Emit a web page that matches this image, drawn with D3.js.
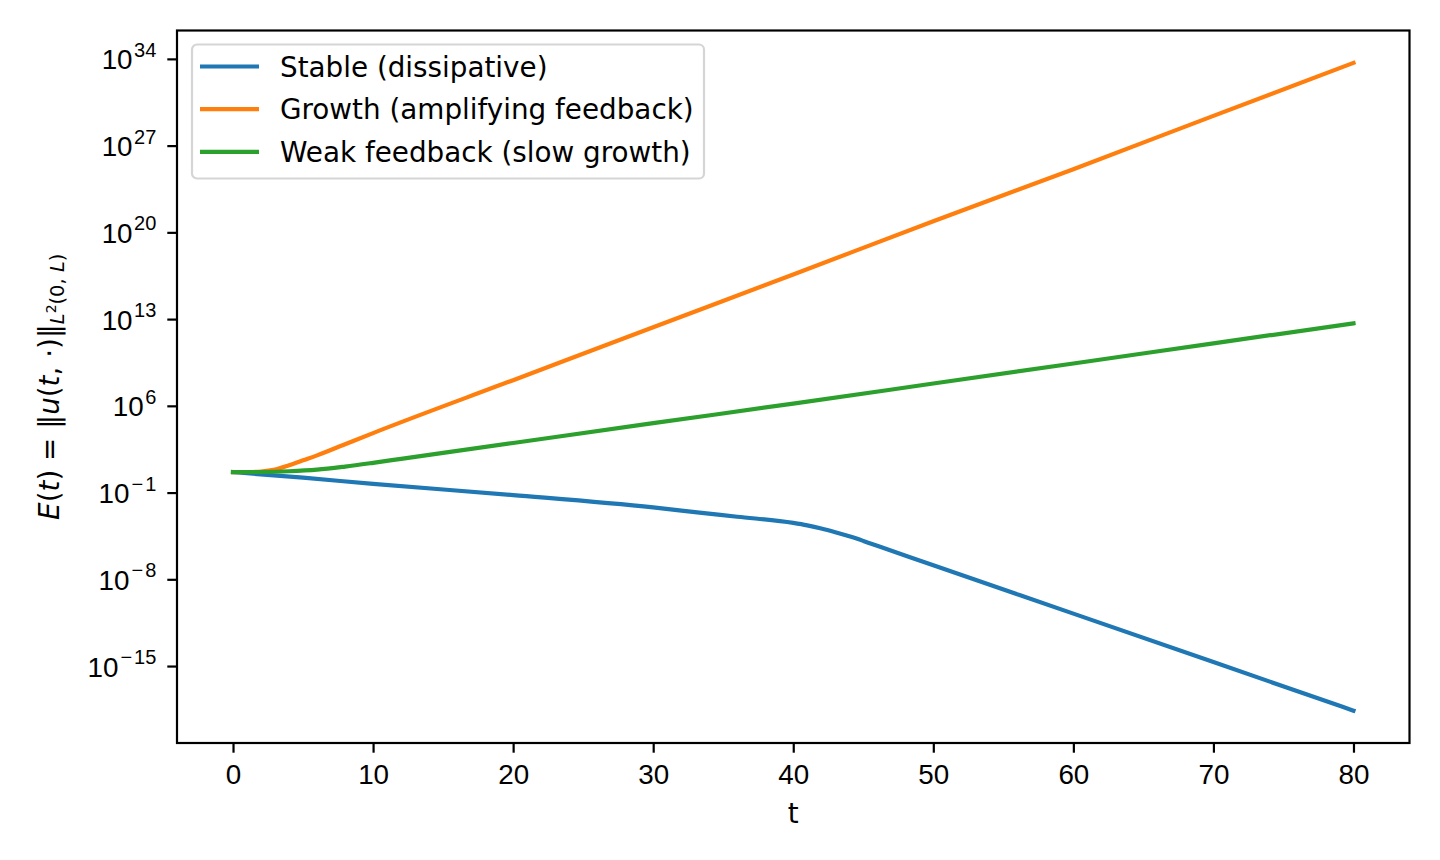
<!DOCTYPE html>
<html>
<head>
<meta charset="utf-8">
<script src="https://cdn.jsdelivr.net/npm/d3@7/dist/d3.min.js"></script>
<style>
  body { margin: 0; background: #fff; }
  svg { font-family: "DejaVu Sans", sans-serif; }
</style>
</head>
<body>
<div id="chart"></div>
<script>
// Data: time t and log10 of E(t) for each series
var stableT = [0, 5, 10, 20, 30, 33.3, 36, 40, 41, 42, 43, 44, 45, 46.2, 50, 60, 70, 80];
var stableLog = [0.65, 0.2, -0.3, -1.2, -2.2, -2.62, -2.95, -3.45, -3.65, -3.9, -4.2, -4.53, -4.9, -5.37, -6.87, -10.77, -14.68, -18.6];

var growthT = [0, 1, 2, 3, 4, 5, 6, 8, 10, 20, 30, 40, 50, 60, 70, 80];
var growthLog = [0.65, 0.66, 0.7, 0.85, 1.2, 1.6, 2.0, 2.9, 3.8, 8.07, 12.34, 16.6, 20.9, 25.1, 29.4, 33.68];

var weakT = [0, 2, 4, 6, 8, 10, 12, 15, 20, 30, 40, 50, 60, 70, 80];
var weakLog = [0.65, 0.66, 0.72, 0.85, 1.1, 1.4, 1.72, 2.2, 3.0, 4.6, 6.18, 7.8, 9.42, 11.04, 12.66];

var seriesNames = ["Stable (dissipative)", "Growth (amplifying feedback)", "Weak feedback (slow growth)"];
var seriesColors = ["#1f77b4", "#ff7f0e", "#2ca02c"];

var xTicks = [0, 10, 20, 30, 40, 50, 60, 70, 80];
var yTickExponents = [-15, -8, -1, 6, 13, 20, 27, 34];

// SVG size and plot area
var svgWidth = 1440;
var svgHeight = 860;
var margin = { top: 30.5, right: 30.5, bottom: 117, left: 177 };
var width = svgWidth - margin.left - margin.right;
var height = svgHeight - margin.top - margin.bottom;

var svg = d3.select("#chart")
  .append("svg")
  .attr("width", svgWidth)
  .attr("height", svgHeight);

var chartGroup = svg.append("g")
  .attr("transform", `translate(${margin.left}, ${margin.top})`);

function toPoints(ts, logs) {
  return ts.map(function(t, i) { return { t: t, e: Math.pow(10, logs[i]) }; });
}
var series = [
  toPoints(stableT, stableLog),
  toPoints(growthT, growthLog),
  toPoints(weakT, weakLog)
];

// Scales (matplotlib style 5% margins)
var xScale = d3.scaleLinear().domain([-4, 84]).range([0, width]);
var yScale = d3.scaleLog()
  .domain([Math.pow(10, -21.21), Math.pow(10, 36.29)])
  .range([height, 0]);

var fs = 27.8;
var tickLen = 9.7;

// Lines
var line = d3.line()
  .x(d => xScale(d.t))
  .y(d => yScale(d.e))
  .curve(d3.curveMonotoneX);

series.forEach(function(s, i) {
  chartGroup.append("path")
    .datum(s)
    .attr("fill", "none")
    .attr("stroke", seriesColors[i])
    .attr("stroke-width", 4.2)
    .attr("stroke-linecap", "square")
    .attr("d", line);
});

// Axes
var bottomAxis = d3.axisBottom(xScale)
  .tickValues(xTicks)
  .tickSize(tickLen)
  .tickPadding(9.7)
  .tickFormat(d3.format("d"));

var leftAxis = d3.axisLeft(yScale)
  .tickValues(yTickExponents.map(e => Math.pow(10, e)))
  .tickSize(tickLen)
  .tickFormat("");

var xAxisG = chartGroup.append("g")
  .attr("transform", `translate(0, ${height})`)
  .call(bottomAxis);
xAxisG.selectAll("text")
  .attr("fill", "#000")
  .style("font-size", fs + "px")
  .attr("dy", "0.76em");

var yAxisG = chartGroup.append("g").call(leftAxis);

[xAxisG, yAxisG].forEach(function(g) {
  g.select(".domain").remove();
  g.selectAll(".tick line").attr("stroke", "#000").attr("stroke-width", 2.2);
});

// y tick labels with superscript exponents
yAxisG.selectAll(".tick").each(function(d) {
  var e = Math.round(Math.log10(d));
  var txt = d3.select(this).append("text")
    .attr("x", -tickLen - 11)
    .attr("y", 10)
    .attr("text-anchor", "end")
    .attr("fill", "#000")
    .style("font-size", fs + "px");
  txt.append("tspan").text("10");
  if (e < 0) {
    txt.append("tspan")
      .attr("dx", 2)
      .attr("dy", -12.5)
      .style("font-size", "20px")
      .text("\u2212");
    txt.append("tspan")
      .attr("dx", 2)
      .style("font-size", "20px")
      .text(String(-e));
  } else {
    txt.append("tspan")
      .attr("dx", 1.5)
      .attr("dy", -12.5)
      .style("font-size", "20px")
      .text(String(e));
  }
});

// Frame
chartGroup.append("rect")
  .attr("width", width)
  .attr("height", height)
  .attr("fill", "none")
  .attr("stroke", "#000")
  .attr("stroke-width", 2.2);

// Axis labels
chartGroup.append("text")
  .attr("x", xScale(40))
  .attr("y", height + 80)
  .attr("text-anchor", "middle")
  .style("font-size", fs + "px")
  .text("t");

var yLabel = svg.append("text")
  .attr("transform", `translate(59, ${margin.top + height / 2}) rotate(-90)`)
  .attr("text-anchor", "middle")
  .style("font-size", fs + "px");
yLabel.append("tspan").style("font-style", "italic").text("E");
yLabel.append("tspan").text("(");
yLabel.append("tspan").style("font-style", "italic").text("t");
yLabel.append("tspan").text(") = \u2016");
yLabel.append("tspan").style("font-style", "italic").text("u");
yLabel.append("tspan").text("(");
yLabel.append("tspan").style("font-style", "italic").text("t");
yLabel.append("tspan").text(", \u00b7)\u2016");
yLabel.append("tspan").attr("dy", 5).style("font-size", "19.5px").style("font-style", "italic").text("L");
yLabel.append("tspan").attr("dy", -8).style("font-size", "13.9px").text("2");
yLabel.append("tspan").attr("dy", 8).style("font-size", "19.5px").text("(0, ");
yLabel.append("tspan").style("font-size", "19.5px").style("font-style", "italic").text("L");
yLabel.append("tspan").style("font-size", "19.5px").text(")");

// Legend
var legend = chartGroup.append("g")
  .attr("transform", "translate(15, 14)");

legend.append("rect")
  .attr("width", 512)
  .attr("height", 134)
  .attr("rx", 5)
  .attr("fill", "#fff")
  .attr("fill-opacity", 0.8)
  .attr("stroke", "#d5d5d5")
  .attr("stroke-width", 2.2);

seriesNames.forEach(function(name, i) {
  var row = legend.append("g")
    .attr("transform", `translate(0, ${22 + i * 42.7})`);
  row.append("line")
    .attr("x1", 8).attr("x2", 67)
    .attr("stroke", seriesColors[i])
    .attr("stroke-width", 4.2);
  row.append("text")
    .attr("x", 88)
    .attr("dy", "0.36em")
    .style("font-size", fs + "px")
    .text(name);
});
</script>
</body>
</html>
